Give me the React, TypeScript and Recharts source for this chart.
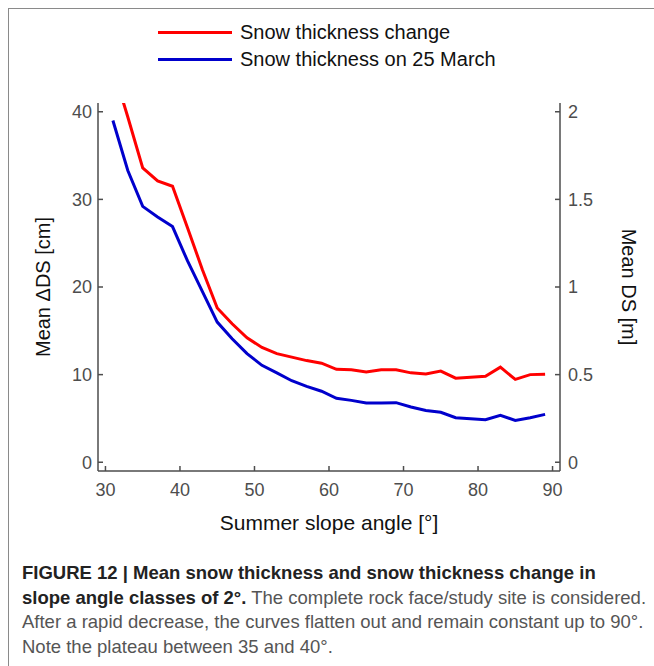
import React from "react";
import { LineChart, Line, XAxis, YAxis } from "recharts";

// slope angle classes of 2 degrees (class centres)
const angles = [31, 33, 35, 37, 39, 41, 43, 45, 47, 49, 51, 53, 55, 57, 59, 61, 63, 65, 67, 69, 71, 73, 75, 77, 79, 81, 83, 85, 87, 89];

// mean snow thickness change [cm] (left axis)
const thicknessChange = [45, 39.4, 33.6, 32.1, 31.5, 26.8, 22.0, 17.6, 15.8, 14.2, 13.1, 12.4, 12.0, 11.6, 11.3, 10.6, 10.55, 10.3, 10.55, 10.55, 10.2, 10.06, 10.4, 9.6, 9.7, 9.8, 10.85, 9.45, 10.0, 10.05];

// mean snow thickness on 25 March [m] (right axis)
const thicknessMarch = [1.95, 1.665, 1.46, 1.4, 1.345, 1.15, 0.975, 0.8, 0.705, 0.62, 0.553, 0.51, 0.465, 0.433, 0.405, 0.365, 0.353, 0.338, 0.338, 0.34, 0.315, 0.295, 0.285, 0.254, 0.248, 0.243, 0.268, 0.239, 0.254, 0.273];

const xTicks = [30, 40, 50, 60, 70, 80, 90];
const leftTicks = [0, 10, 20, 30, 40];
const rightTicks = [0, 0.5, 1, 1.5, 2];

const series = [
  { key: "change", name: "Snow thickness change", color: "#ff0000", axis: "left" },
  { key: "march", name: "Snow thickness on 25 March", color: "#0000cc", axis: "right" },
];

const data = angles.map((a, i) => ({
  angle: a,
  change: thicknessChange[i],
  march: thicknessMarch[i],
}));

const FONT = "'Liberation Sans', Arial, Helvetica, sans-serif";
const AXIS = "#4d4d4d";
const tickStyle = { fontSize: 18, fill: "#4d4d4d", fontFamily: FONT };

const App = () => {
  return (
    <div
      style={{
        position: "absolute",
        left: 0,
        top: 0,
        width: 654,
        height: 666,
        background: "#fff",
        overflow: "hidden",
        fontFamily: FONT,
      }}
    >
      {/* outer figure frame */}
      <div
        style={{
          position: "absolute",
          left: 8,
          top: 8,
          width: 700,
          height: 700,
          borderLeft: "1.5px solid #8a8a8a",
          borderTop: "1.5px solid #8a8a8a",
        }}
      />

      {/* legend */}
      <div style={{ position: "absolute", left: 158, top: 19 }}>
        {series.map((s) => (
          <div
            key={s.key}
            style={{ display: "flex", alignItems: "center", height: 27 }}
          >
            <div style={{ width: 74, height: 3, background: s.color }} />
            <span
              style={{
                marginLeft: 8,
                fontSize: 20,
                color: "#111",
                whiteSpace: "nowrap",
              }}
            >
              {s.name}
            </span>
          </div>
        ))}
      </div>

      <div style={{ position: "absolute", left: 0, top: 0 }}>
        <LineChart
          width={654}
          height={540}
          data={data}
          margin={{ top: 103, right: 0, bottom: 0, left: 0 }}
        >
          <XAxis
            dataKey="angle"
            type="number"
            domain={[29, 91]}
            ticks={xTicks}
            allowDataOverflow
            height={69}
            stroke={AXIS}
            strokeWidth={1.5}
            tickSize={-5}
            tickMargin={17}
            tick={tickStyle}
            label={{
              value: "Summer slope angle [°]",
              position: "insideBottom",
              offset: 10,
              style: { fontSize: 21, fill: "#111", fontFamily: FONT },
            }}
          />
          <XAxis
            xAxisId="top"
            dataKey="angle"
            type="number"
            domain={[29, 91]}
            orientation="top"
            height={0}
            tick={false}
            tickLine={false}
            stroke={AXIS}
            strokeWidth={1.5}
          />
          <YAxis
            yAxisId="left"
            domain={[-1, 41]}
            ticks={leftTicks}
            allowDataOverflow
            width={98}
            stroke={AXIS}
            strokeWidth={1.5}
            tickSize={-5}
            tickMargin={11}
            tick={tickStyle}
            label={{
              value: "Mean ΔDS [cm]",
              angle: -90,
              position: "insideLeft",
              offset: 43,
              style: { fontSize: 20, fill: "#111", fontFamily: FONT, textAnchor: "middle" },
            }}
          />
          <YAxis
            yAxisId="right"
            orientation="right"
            domain={[-0.05, 2.05]}
            ticks={rightTicks}
            allowDataOverflow
            width={94}
            stroke={AXIS}
            strokeWidth={1.5}
            tickSize={-5}
            tickMargin={13}
            tick={tickStyle}
            label={{
              value: "Mean DS [m]",
              angle: 90,
              position: "insideRight",
              offset: 25,
              style: { fontSize: 20, fill: "#111", fontFamily: FONT, textAnchor: "middle" },
            }}
          />
          {series.map((s) => (
            <Line
              key={s.key}
              yAxisId={s.axis}
              dataKey={s.key}
              name={s.name}
              stroke={s.color}
              strokeWidth={3}
              dot={false}
              activeDot={false}
              type="linear"
              isAnimationActive={false}
            />
          ))}
        </LineChart>
      </div>

      {/* caption */}
      <div
        style={{
          position: "absolute",
          left: 22,
          top: 561,
          fontSize: 18.5,
          lineHeight: "24.5px",
          color: "#555",
          whiteSpace: "nowrap",
        }}
      >
        <div style={{ fontWeight: "bold", color: "#222" }}>
          FIGURE 12 | Mean snow thickness and snow thickness change in
        </div>
        <div>
          <span style={{ fontWeight: "bold", color: "#222" }}>
            slope angle classes of 2°.
          </span>{" "}
          The complete rock face/study site is considered.
        </div>
        <div>After a rapid decrease, the curves flatten out and remain constant up to 90°.</div>
        <div>Note the plateau between 35 and 40°.</div>
      </div>
    </div>
  );
};

export default App;
